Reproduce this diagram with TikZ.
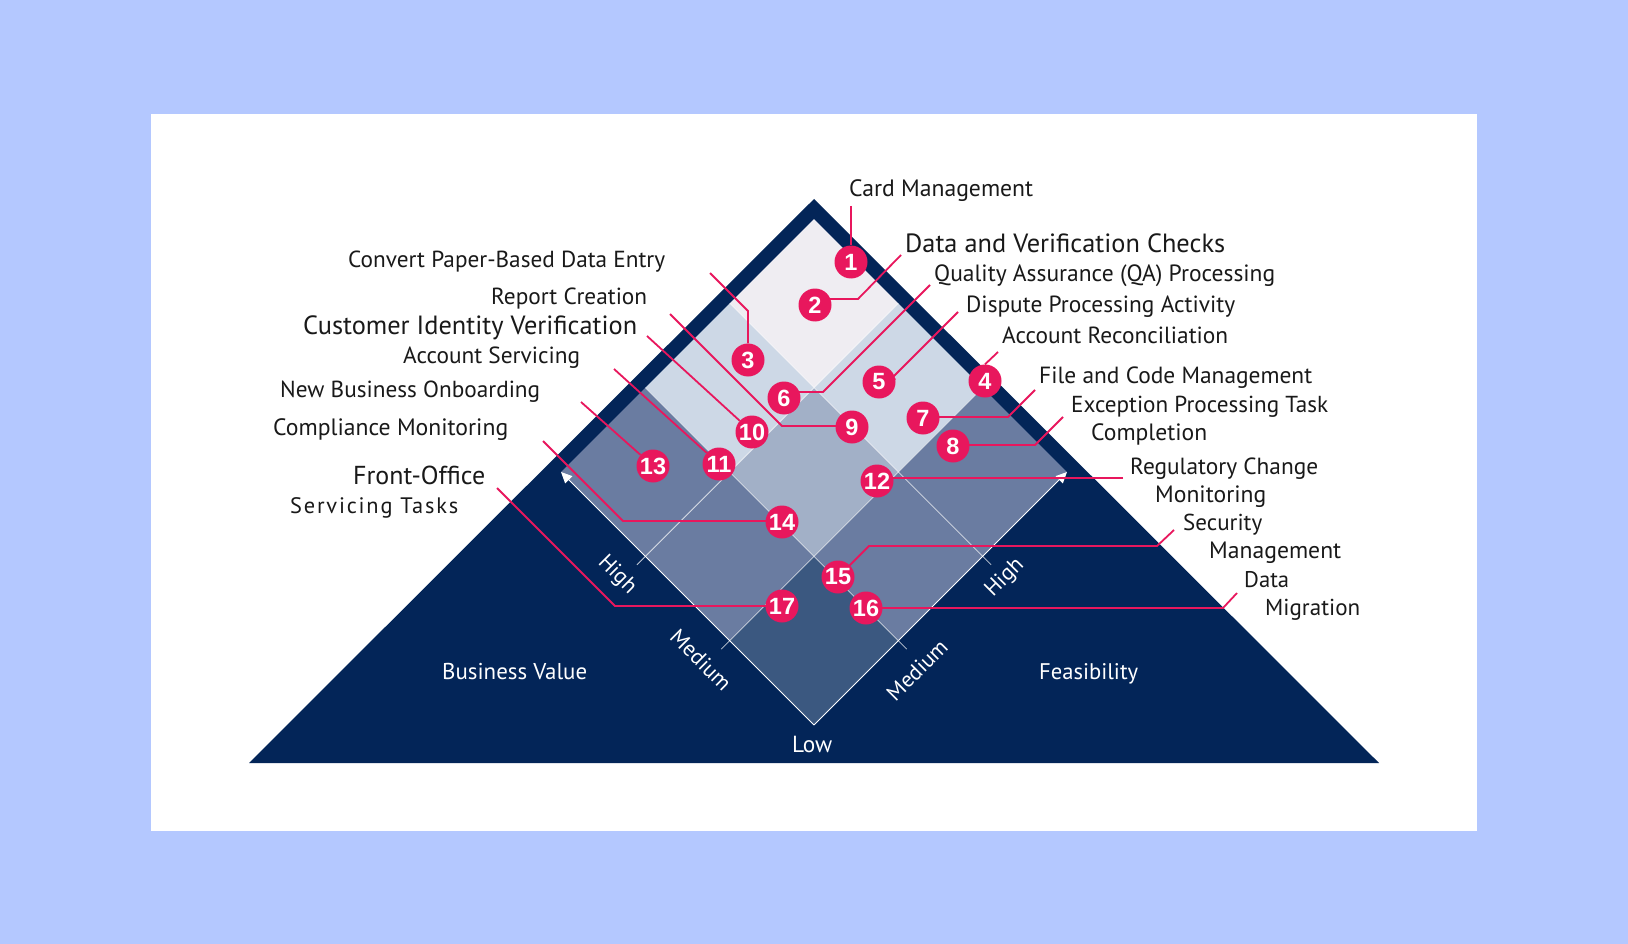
\documentclass[tikz,border=0pt]{standalone}
\usepackage{fontspec}
\setmainfont{PT Sans}
\newfontfamily\badgefont{Liberation Sans}
\usetikzlibrary{arrows.meta}
\definecolor{bgblue}{RGB}{180,200,255}
\definecolor{navy}{RGB}{3,37,88}
\definecolor{ctop}{RGB}{239,237,242}
\definecolor{clight}{RGB}{205,216,230}
\definecolor{cmid}{RGB}{162,176,199}
\definecolor{cdark}{RGB}{106,124,161}
\definecolor{cbot}{RGB}{59,88,128}
\definecolor{pinkc}{RGB}{232,23,93}
\definecolor{ink}{RGB}{25,25,25}
\pgfdeclarelayer{back}
\pgfdeclarelayer{mid}
\pgfsetlayers{back,mid,main}
\newcommand\fitto[2]{\setbox0=\hbox{\fontsize{10}{12}\selectfont #2}\pgfmathsetmacro\fitfs{10*#1/\the\wd0}\fontsize{\fitfs}{\fitfs}\selectfont #2}
\newcommand\cellq[3]{\fill[#3] (#1,#2) -- ++(1,0) -- ++(0,1) -- ++(-1,0) -- cycle;}
\tikzset{
  lab/.style={anchor=base west, inner sep=0pt, text=ink},
  axlab/.style={anchor=base west, inner sep=0pt, text=white},
  rotlab/.style={inner sep=0pt, text=white, font=\fontsize{22}{22}\selectfont},
  badge/.style={circle, fill=pinkc, minimum size=33pt, inner sep=0pt, text=white,
    font=\badgefont\bfseries\fontsize{23.5}{23.5}\selectfont},
  lead/.style={draw=pinkc, line width=1.8pt},
  gridline/.style={draw=white, line width=0.8pt, opacity=0.75},
  edgearrow/.style={draw=white, line width=1pt, -{Triangle[length=11pt,width=10pt]}}
}
\begin{document}
\begin{tikzpicture}[x=1pt, y=-1pt]
\useasboundingbox (0,0) rectangle (1628,944);
\begin{pgfonlayer}{back}
\fill[bgblue] (0,0) rectangle (1628,944);
\fill[white] (151,114) rectangle (1477,831);
\fill[navy] (814,199) -- (1379,763) -- (249,763) -- cycle;
\begin{scope}[shift={(814,725)}, x={(-84.33pt,84.33pt)}, y={(84.33pt,84.33pt)}]
  \cellq{2}{2}{ctop}
  \cellq{2}{1}{clight}
  \cellq{1}{2}{clight}
  \cellq{1}{1}{cmid}
  \cellq{2}{0}{cdark}
  \cellq{0}{2}{cdark}
  \cellq{1}{0}{cdark}
  \cellq{0}{1}{cdark}
  \cellq{0}{0}{cbot}
  \draw[gridline] (1,-0.1) -- (1,3);
  \draw[gridline] (2,-0.1) -- (2,3);
  \draw[gridline] (-0.1,1) -- (3,1);
  \draw[gridline] (-0.1,2) -- (3,2);
  \draw[edgearrow] (0,0) -- (3,0);
  \draw[edgearrow] (0,0) -- (0,3);
\end{scope}
\end{pgfonlayer}

% badges
\node[badge] (b1) at (851,262) {1};
\node[badge] (b2) at (815,305) {2};
\node[badge] (b3) at (748,360) {3};
\node[badge] (b4) at (985,381) {4};
\node[badge] (b5) at (879,382) {5};
\node[badge] (b6) at (784,398) {6};
\node[badge] (b7) at (923,418) {7};
\node[badge] (b8) at (953,446) {8};
\node[badge] (b9) at (852,427) {9};
\node[badge] (b10) at (752,432) {10};
\node[badge] (b11) at (719,464) {11};
\node[badge] (b12) at (877,481) {12};
\node[badge] (b13) at (653,466) {13};
\node[badge] (b14) at (782,522) {14};
\node[badge] (b15) at (838,577) {15};
\node[badge] (b16) at (866,608) {16};
\node[badge] (b17) at (782,606) {17};

% right labels
\node[lab] (t1) at (849,197) {\fitto{184}{Card Management}};
\node[lab] (t2) at (905,252) {\fitto{320}{Data and Verification Checks}};
\node[lab] (t6) at (934,281) {\fitto{341}{Quality Assurance (QA) Processing}};
\node[lab] (t5) at (966,312) {\fitto{269}{Dispute Processing Activity}};
\node[lab] (t4) at (1002,343) {\fitto{226}{Account Reconciliation}};
\node[lab] (t7) at (1039,383) {\fitto{273}{File and Code Management}};
\node[lab] (t8a) at (1071,412) {\fitto{257}{Exception Processing Task}};
\node[lab] (t8b) at (1091,440) {\fitto{116}{Completion}};
\node[lab] (t12a) at (1130,474) {\fitto{188}{Regulatory Change}};
\node[lab] (t12b) at (1155,502) {\fitto{111}{Monitoring}};
\node[lab] (t15a) at (1183,530) {\fitto{79}{Security}};
\node[lab] (t15b) at (1209,558) {\fitto{132}{Management}};
\node[lab] (t16a) at (1244,587) {\fitto{45}{Data}};
\node[lab] (t16b) at (1265,615) {\fitto{95}{Migration}};

% left labels
\node[lab] (t3) at (348,268) {\fitto{317}{Convert Paper-Based Data Entry}};
\node[lab] (t9) at (491,304) {\fitto{156}{Report Creation}};
\node[lab] (t10) at (303,334) {\fitto{334}{Customer Identity Verification}};
\node[lab] (t11) at (403,363) {\fitto{177}{Account Servicing}};
\node[lab] (t13) at (280,397) {\fitto{260}{New Business Onboarding}};
\node[lab] (t14) at (273,435) {\fitto{235}{Compliance Monitoring}};
\node[lab] (t17a) at (353,484) {\fitto{132}{Front-Office}};
\node[lab] (t17b) at (290,513) {\fitto{168}{\addfontfeatures{LetterSpace=8}Servicing Tasks}};

% axis labels
\node[axlab] (tbv) at (442,679) {\fitto{145}{Business Value}};
\node[axlab] (tfe) at (1039,679) {\fitto{99}{Feasibility}};
\node[axlab] (tlow) at (792,752) {\fitto{40}{Low}};
\node[rotlab, rotate=-45] (thl) at (617,575) {High};
\node[rotlab, rotate=-45] (tml) at (701,660) {Medium};
\node[rotlab, rotate=45] (tmr) at (917,670) {Medium};
\node[rotlab, rotate=45] (thr) at (1005,578) {High};

% leader coordinates
\coordinate (s1) at (851,206);
\coordinate (s2) at (901,255); \coordinate (k2) at (858,299);
\coordinate (s3) at (710,273); \coordinate (k3) at (748,311);
\coordinate (s4) at (998,352);
\coordinate (s5) at (958,312); \coordinate (k5) at (890,380);
\coordinate (s6) at (930,285); \coordinate (k6) at (823,392);
\coordinate (s7) at (1035,390); \coordinate (k7) at (1008,417);
\coordinate (s8) at (1063,417); \coordinate (k8) at (1035,445);
\coordinate (s9) at (670,314); \coordinate (k9) at (782,426);
\coordinate (s10) at (647,336);
\coordinate (s11) at (614,369);
\coordinate (s12) at (1123,478);
\coordinate (s13) at (581,402);
\coordinate (s14) at (543,441); \coordinate (k14) at (623,521);
\coordinate (s15) at (1174,530); \coordinate (k15b) at (1157,546); \coordinate (k15a) at (869,546);
\coordinate (s16) at (1237,593); \coordinate (k16) at (1223,608);
\coordinate (s17) at (497,488); \coordinate (k17) at (615,606);

\begin{pgfonlayer}{mid}
\draw[lead] (s1) -- (b1);
\draw[lead] (s2) -- (k2) -- (k2 -| b2);
\draw[lead] (s3) -- (k3) -- (b3);
\draw[lead] (s4) -- (b4.north);
\draw[lead] (s5) -- (k5) -- (b5);
\draw[lead] (s6) -- (k6) -- (k6 -| b6);
\draw[lead] (s7) -- (k7) -- (k7 -| b7);
\draw[lead] (s8) -- (k8) -- (k8 -| b8);
\draw[lead] (s9) -- (k9) -- (k9 -| b9);
\draw[lead] (s10) -- (b10);
\draw[lead] (s11) -- (b11);
\draw[lead] (s12) -- (s12 -| b12);
\draw[lead] (s13) -- (b13);
\draw[lead] (s14) -- (k14) -- (k14 -| b14);
\draw[lead] (s15) -- (k15b) -- (k15a) -- (b15);
\draw[lead] (s16) -- (k16) -- (k16 -| b16);
\draw[lead] (s17) -- (k17) -- (k17 -| b17);
\end{pgfonlayer}
\end{tikzpicture}
\end{document}
